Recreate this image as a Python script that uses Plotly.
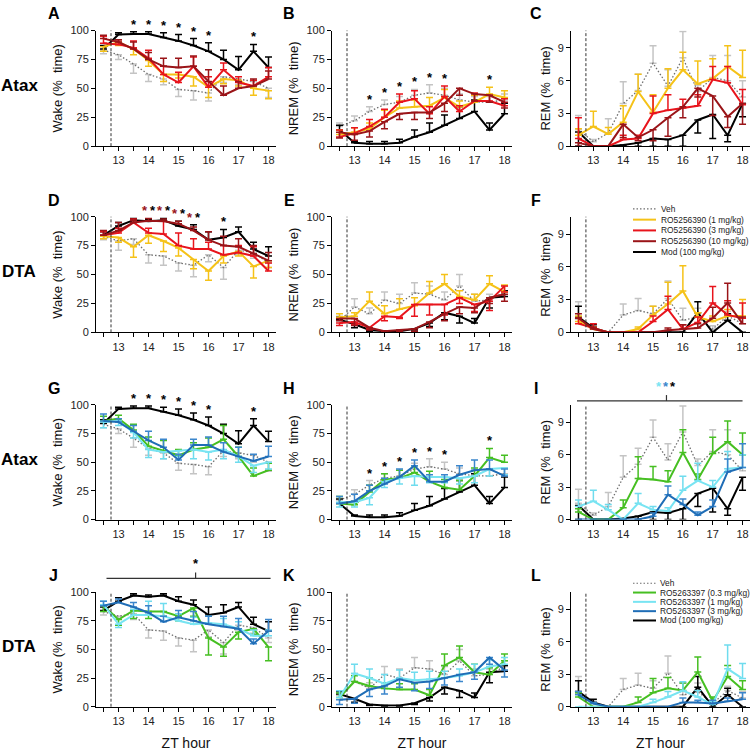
import plotly.graph_objects as go

# ---------------- data ----------------
ZT = [12.5, 13.0, 13.5, 14.0, 14.5, 15.0, 15.5, 16.0, 16.5, 17.0, 17.5, 18.0]
TICK_VALS = [12.5, 13.0, 13.5, 14.0, 14.5, 15.0, 15.5, 16.0, 16.5, 17.0, 17.5, 18.0]
TICK_TEXT = ["", "13", "", "14", "", "15", "", "16", "", "17", "", "18"]
PCT_TICKS = [0, 25, 50, 75, 100]
REM_TICKS = [0, 3, 6, 9]
ROW_LABELS = ["Atax", "DTA", "Atax", "DTA"]
PANEL_LETTERS = ["A", "B", "C", "D", "E", "F", "G", "H", "I", "J", "K", "L"]
Y_TITLES = ["Wake (%  time)", "NREM (%  time)", "REM (%  time)"]
NAMES_390 = ["Veh", "RO5256390 (1 mg/kg)", "RO5256390 (3 mg/kg)", "RO5256390 (10 mg/kg)", "Mod (100 mg/kg)"]
NAMES_397 = ["Veh", "RO5263397 (0.3 mg/kg)", "RO5263397 (1 mg/kg)", "RO5263397 (3 mg/kg)", "Mod (100 mg/kg)"]

# errors: positive = bar drawn upward, negative = bar drawn downward
# --- Atax, shared Veh / Mod ---
VEH_WAKE_ATAX = [83, 79, 71, 62, 58, 49, 48, 46, 60, 58, 56, 50]
VEH_WAKE_ATAX_ERR = [-3, -4, -8, -6, -5, -6, -8, -7, -5, -5, -6, -8]
MOD_WAKE_ATAX = [84, 96.5, 97, 97, 94, 91, 87, 82, 75, 66, 82, 68]
MOD_WAKE_ATAX_ERR = [3, 1.5, 2, 2, 4, 5.5, 6, 7.5, 8, 11.5, 6, 9]
VEH_NREM_ATAX = [17, 22, 30, 36, 38, 44, 46, 44, 40, 38, 38, 40]
VEH_NREM_ATAX_ERR = [3, 4, 4, 4, 5, 5, 7, 6, 5, 5, 5, 5]
MOD_NREM_ATAX = [14, 3, 2, 2, 3, 8, 12, 18, 24, 30, 14, 28]
MOD_NREM_ATAX_ERR = [4, 1, 2, 2, 3, 6, 8, 9, 10, 10, 6, 9]
VEH_REM_ATAX = [1.5, 0.4, 1.2, 3.9, 5.1, 7.6, 5.5, 8.1, 5.0, 6.3, 6.0, 4.5]
VEH_REM_ATAX_ERR = [1.3, 0.2, 1.3, 2.0, 1.5, 1.6, 1.5, 2.4, 0.6, 2.0, 2.3, 1.5]
MOD_REM_ATAX = [1.3, 0, 0, 0.1, 0.3, 0.7, 0.6, 1.0, 2.4, 2.9, 1.0, 3.9]
MOD_REM_ATAX_ERR = [-1.3, 0, 0, -0.1, -0.3, -0.7, -0.6, -1.0, -1.2, -2.2, -0.6, -1.2]
# --- DTA, shared Veh / Mod ---
VEH_WAKE_DTA = [83, 79, 81, 67, 66, 60, 58, 67, 56, 71, 69, 60]
VEH_WAKE_DTA_ERR = [-3, -8, -5, -7, -8, -7, -10, -6, -10, -4, -5, -4]
MOD_WAKE_DTA = [84, 92, 97, 96, 97, 92, 89, 80, 82, 87, 72, 66]
MOD_WAKE_DTA_ERR = [3, 3, 1.5, 1.5, 1.5, 4, 4, 7, 7, 4, 6, 8]
VEH_NREM_DTA = [10, 22, 16, 28, 25, 34, 33, 28, 40, 27, 28, 35]
VEH_NREM_DTA_ERR = [4, 7, 5, 7, 8, 9, 7, 7, 10, 6, 5, 5]
MOD_NREM_DTA = [11, 7, 2, 1, 1, 3, 8, 17, 14, 8, 30, 31]
MOD_NREM_DTA_ERR = [2, -3, -1, -1, -1, -1, -3, -6, -6, 4, -9, 5]
VEH_REM_DTA = [1.2, 0.3, 0, 1.6, 2.0, 1.7, 3.1, 1.1, 1.4, 0.3, 1.5, 0.8]
VEH_REM_DTA_ERR = [1.6, 0.2, 0, 1.0, 1.1, 0.7, 1.6, 1.1, 0.8, 0.3, 0.4, 0.6]
MOD_REM_DTA = [1.4, 0.4, 0, 0, 0, 0, 0, 0, 1.8, 0, 1.1, 0]
MOD_REM_DTA_ERR = [1.0, 0.3, 0, 0, 0, 0, 0, 0, 1.0, 0, 0.6, 0]

# --- RO5256390 ---
R390_1_WAKE_ATAX = [86, 90, 84, 74, 62, 62, 60, 51, 58, 57, 50, 48]
R390_1_WAKE_ATAX_ERR = [-4, -3, -5, -5, -6, -3, -8, -9, -4, -5, -6, -7]
R390_3_WAKE_ATAX = [89, 88, 85, 76, 62, 55, 69, 51, 66, 55, 52, 60]
R390_3_WAKE_ATAX_ERR = [6, 4, 6, 7, 7, 9, 8, 9, 6, 5, 5, 8]
R390_10_WAKE_ATAX = [93, 90, 84, 75, 69, 68, 69, 56, 44, 50, 52, 58]
R390_10_WAKE_ATAX_ERR = [3, 2, 6, 6, 7, 8, 9, 10, 8, 6, 6, 7]

R390_1_NREM_ATAX = [10, 12, 15, 25, 33, 34, 35, 42, 34, 38, 45, 42]
R390_1_NREM_ATAX_ERR = [4, 4, 5, 6, 6, 6, 7, 7, 5, 6, 6, 6]
R390_3_NREM_ATAX = [8, 11, 17, 25, 38, 41, 28, 43, 30, 39, 39, 35]
R390_3_NREM_ATAX_ERR = [6, 5, 6, 7, 7, 7, 6, 9, 5, 7, 5, 6]
R390_10_NREM_ATAX = [12, 10, 13, 21, 28, 29, 29, 37, 50, 45, 44, 38]
R390_10_NREM_ATAX_ERR = [-5, -5, -5, -6, -5, -6, -5, -7, -6, -6, -6, -5]

R390_1_REM_ATAX = [1.0, 1.8, 1.1, 2.2, 5.0, 3.1, 5.3, 7.0, 5.7, 6.2, 7.3, 6.3]
R390_1_REM_ATAX_ERR = [0.6, 1.4, 0.6, 1.5, 1.6, 1.6, 1.8, 1.6, 2.1, 1.8, 1.9, 2.5]
R390_3_REM_ATAX = [0.7, 0, 0, 0.6, 0.7, 3.0, 3.3, 3.5, 3.7, 6.1, 5.8, 3.8]
R390_3_REM_ATAX_ERR = [1.9, 0, 0, 0.4, 0.3, 1.6, 1.4, 0.8, 1.0, 1.2, 1.5, 1.4]
R390_10_REM_ATAX = [0.3, 0, 0, 2.0, 0.8, 1.5, 2.6, 3.6, 5.3, 4.6, 2.7, 3.9]
R390_10_REM_ATAX_ERR = [-0.3, 0, 0, -1.2, -0.3, -1.0, -1.7, -1.0, -0.8, -1.8, -1.0, -1.9]

R390_1_WAKE_DTA = [83, 82, 74, 84, 79, 73, 63, 53, 66, 70, 57, 62]
R390_1_WAKE_DTA_ERR = [-2, -4, -9, -7, -9, -7, -8, -8, -6, -4, -10, -6]
R390_3_WAKE_DTA = [84, 86, 95, 86, 85, 75, 72, 72, 67, 69, 66, 53]
R390_3_WAKE_DTA_ERR = [3, 4, 3, 4, 11, 11, 9, 6, 8, 6, 8, 7]
R390_10_WAKE_DTA = [84, 88, 95, 96.5, 96, 94, 88, 80, 75, 74, 68, 62]
R390_10_WAKE_DTA_ERR = [4, 7, 2, 2, 2, 2, 3, 7, 8, 7, 7, 7]

R390_1_NREM_DTA = [13, 14, 27, 16, 20, 23, 34, 42, 31, 28, 42, 35]
R390_1_NREM_DTA_ERR = [3, 3, 8, 7, 9, 7, 10, 8, 5, 5, 7, 6]
R390_3_NREM_DTA = [8, 9, 4, 14, 13, 24, 24, 24, 30, 24, 27, 40]
R390_3_NREM_DTA_ERR = [-2, -2, -1, -4, -1, -10, -9, -9, -5, -6, -8, -5]
R390_10_NREM_DTA = [12, 12, 4, 1, 2, 3, 9, 16, 22, 21, 30, 33]
R390_10_NREM_DTA_ERR = [-2, -6, -2, -1, -1, -2, -5, -6, -6, -4, -5, -6]

R390_1_REM_DTA = [1.0, 0.3, 0, 0, 0.3, 1.6, 2.6, 3.8, 1.4, 1.0, 1.5, 1.5]
R390_1_REM_DTA_ERR = [0.5, 0.2, 0, 0, 0.2, 0.8, 2.0, 2.3, 0.4, 0.5, 0.6, 1.5]
R390_3_REM_DTA = [0.8, 0.4, 0, 0, 0, 1.0, 2.1, 0.3, 0.9, 2.7, 1.6, 1.3]
R390_3_REM_DTA_ERR = [0.5, 0.4, 0, 0, 0, 0.5, 1.2, 0.4, 0.5, 1.5, 1.3, 1.4]
R390_10_REM_DTA = [1.3, 0.3, 0, 0, 0, 0, 0.2, 0.3, 0.4, 1.3, 2.7, 0.8]
R390_10_REM_DTA_ERR = [0.4, 0.2, 0, 0, 0, 0, 0.2, 0.4, 0.4, 1.0, 1.8, 0.6]

# --- RO5263397 ---
R397_03_WAKE_ATAX = [86, 88, 78, 64, 60, 56, 61, 63, 70, 55, 38, 43]
R397_03_WAKE_ATAX_ERR = [4, 3, 5, 8, 9, 5, 6, 8, 12, 8, 7, 6]
R397_1_WAKE_ATAX = [85, 86, 76, 61, 59, 60, 61, 59, 61, 55, 47, 50]
R397_1_WAKE_ATAX_ERR = [-5, -4, -5, -7, -6, -5, -8, -7, -8, -5, -6, -6]
R397_3_WAKE_ATAX = [86, 85, 77, 69, 63, 52, 65, 65, 59, 55, 51, 55]
R397_3_WAKE_ATAX_ERR = [6, 3, 5, 8, 7, 5, 5, 7, 8, 8, 6, 9]

R397_03_NREM_ATAX = [14, 13, 24, 35, 36, 41, 33, 28, 26, 38, 54, 50]
R397_03_NREM_ATAX_ERR = [6, 3, 6, 5, 7, 6, 9, 7, 8, 7, 8, 6]
R397_1_NREM_ATAX = [15, 15, 19, 33, 36, 38, 37, 37, 36, 38, 44, 45]
R397_1_NREM_ATAX_ERR = [-4, -4, -6, -5, -5, -8, -5, -5, -5, -6, -6, -6]
R397_3_NREM_ATAX = [14, 16, 25, 31, 37, 47, 33, 33, 39, 43, 44, 38]
R397_3_NREM_ATAX_ERR = [6, 6, 5, 5, 7, 5, 6, 6, 8, 9, 8, 6]

R397_03_REM_ATAX = [0.7, 0, 0, 1.1, 3.8, 3.7, 3.5, 6.2, 3.7, 6.1, 7.2, 6.0]
R397_03_REM_ATAX_ERR = [0.3, 0, 0, 0.7, 2.0, 1.2, 1.0, 2.1, 0.5, 1.5, 1.9, 2.0]
R397_1_REM_ATAX = [1.2, 1.7, 0.9, 0, 1.5, 0.9, 0.8, 2.7, 3.6, 3.0, 4.7, 4.8]
R397_1_REM_ATAX_ERR = [0.6, 1.0, 0.5, 0, 0.9, 0.3, 0.3, 1.3, 1.6, 0.6, 1.6, 1.2]
R397_3_REM_ATAX = [0, 0, 0, 0, 0, 0.3, 2.3, 1.4, 0.4, 1.2, 4.4, 4.8]
R397_3_REM_ATAX_ERR = [0, 0, 0, 0, 0, 0.3, 0.8, 0.5, 0.3, 0.6, 1.2, 2.2]

R397_03_WAKE_DTA = [88, 76, 84, 83, 83, 79, 86, 60, 52, 65, 68, 52]
R397_03_WAKE_DTA_ERR = [-5, -5, -7, -6, -4, -4, -7, -15, -8, -6, -5, -12]
R397_1_WAKE_DTA = [89, 72, 80, 80, 79, 75, 72, 73, 72, 68, 62, 62]
R397_1_WAKE_DTA_ERR = [3, -3, 5, 12, 11, 6, 6, 6, 5, 6, 5, 5]
R397_3_WAKE_DTA = [88, 91, 87, 82, 74, 78, 75, 72, 70, 68, 55, 66]
R397_3_WAKE_DTA_ERR = [4, 3, 4, 6, 5, 6, 8, 7, 9, 9, 4, 10]

R397_03_NREM_DTA = [8, 22, 18, 16, 15, 15, 10, 36, 43, 30, 28, 40]
R397_03_NREM_DTA_ERR = [4, 5, 7, 5, 5, 5, 5, 10, 10, 7, 6, 6]
R397_1_NREM_DTA = [8, 29, 25, 20, 25, 23, 24, 25, 27, 30, 35, 37]
R397_1_NREM_DTA_ERR = [6, 8, 8, 8, 7, 7, 7, 6, 6, 7, 6, 6]
R397_3_NREM_DTA = [6, 7, 15, 18, 24, 21, 22, 25, 28, 30, 43, 32]
R397_3_NREM_DTA_ERR = [-4, -4, -6, -7, -7, -7, -6, -6, -6, -6, -6, -6]

R397_03_REM_DTA = [0.9, 0, 0, 0, 0.4, 1.3, 1.7, 1.5, 3.2, 0.5, 2.8, 1.6]
R397_03_REM_DTA_ERR = [0.4, 0, 0, 0, 0.5, 1.3, 1.0, 0.7, 1.4, 0.4, 1.0, 0.8]
R397_1_REM_DTA = [0, 0, 0, 0, 0, 0.4, 0.9, 1.5, 0.9, 0.2, 3.5, 2.6]
R397_1_REM_DTA_ERR = [0, 0, 0, 0, 0, 0.3, 0.5, 0.8, 0.6, 0.3, 2.2, 1.4]
R397_3_REM_DTA = [1.1, 0.3, 0, 0, 0, 0, 0, 0.4, 0.4, 0.3, 0.5, 0.7]
R397_3_REM_DTA_ERR = [0.3, 0.1, 0, 0, 0, 0, 0, 0.4, 0.2, 0.3, 0.3, 0.6]

# significance stars (x positions)
STARS_MOD_ATAX_WAKE = [13.5, 14.0, 14.5, 15.0, 15.5, 16.0, 17.5]
STARS_NREM_ATAX = [13.5, 14.0, 14.5, 15.0, 15.5, 16.0, 17.5]
STARS_D_PAIRS = [14.0, 14.5, 15.0, 15.5]
STARS_D_MOD = [16.5]

# ---------------- styles ----------------
FONT = "Arial, Liberation Sans, sans-serif"
C_VEH, C_VEH_ERR = "#6e6e6e", "#c4c4c4"
C_MOD = "#000000"
C_Y, C_R, C_DR = "#f5c218", "#e8141c", "#9a1418"
C_G, C_CY, C_B = "#46bf22", "#78e4f2", "#1f6db6"
C_CY_ERR, C_B_ERR = "#6fdcee", "#3b86cc"
VEH_DASH = "1.5px,2px"

COLORS_390 = [(C_VEH, C_VEH_ERR), (C_Y, C_Y), (C_R, C_R), (C_DR, C_DR), (C_MOD, C_MOD)]
COLORS_397 = [(C_VEH, C_VEH_ERR), (C_G, C_G), (C_CY, C_CY_ERR), (C_B, C_B_ERR), (C_MOD, C_MOD)]

W, H = 750, 751
COL_PX = [(96, 276), (332, 512), (571, 750)]
ROW_PX = [(25, 143), (215, 333), (407, 524), (598, 715)]

def px_x(p):
    return p / W

def px_y(p):
    return 1 - p / H

# panel table built from the named arrays: (veh, 1st, 2nd, 3rd, mod) each (values, errors)
PANELS = [
    [(VEH_WAKE_ATAX, VEH_WAKE_ATAX_ERR), (R390_1_WAKE_ATAX, R390_1_WAKE_ATAX_ERR), (R390_3_WAKE_ATAX, R390_3_WAKE_ATAX_ERR), (R390_10_WAKE_ATAX, R390_10_WAKE_ATAX_ERR), (MOD_WAKE_ATAX, MOD_WAKE_ATAX_ERR)],
    [(VEH_NREM_ATAX, VEH_NREM_ATAX_ERR), (R390_1_NREM_ATAX, R390_1_NREM_ATAX_ERR), (R390_3_NREM_ATAX, R390_3_NREM_ATAX_ERR), (R390_10_NREM_ATAX, R390_10_NREM_ATAX_ERR), (MOD_NREM_ATAX, MOD_NREM_ATAX_ERR)],
    [(VEH_REM_ATAX, VEH_REM_ATAX_ERR), (R390_1_REM_ATAX, R390_1_REM_ATAX_ERR), (R390_3_REM_ATAX, R390_3_REM_ATAX_ERR), (R390_10_REM_ATAX, R390_10_REM_ATAX_ERR), (MOD_REM_ATAX, MOD_REM_ATAX_ERR)],
    [(VEH_WAKE_DTA, VEH_WAKE_DTA_ERR), (R390_1_WAKE_DTA, R390_1_WAKE_DTA_ERR), (R390_3_WAKE_DTA, R390_3_WAKE_DTA_ERR), (R390_10_WAKE_DTA, R390_10_WAKE_DTA_ERR), (MOD_WAKE_DTA, MOD_WAKE_DTA_ERR)],
    [(VEH_NREM_DTA, VEH_NREM_DTA_ERR), (R390_1_NREM_DTA, R390_1_NREM_DTA_ERR), (R390_3_NREM_DTA, R390_3_NREM_DTA_ERR), (R390_10_NREM_DTA, R390_10_NREM_DTA_ERR), (MOD_NREM_DTA, MOD_NREM_DTA_ERR)],
    [(VEH_REM_DTA, VEH_REM_DTA_ERR), (R390_1_REM_DTA, R390_1_REM_DTA_ERR), (R390_3_REM_DTA, R390_3_REM_DTA_ERR), (R390_10_REM_DTA, R390_10_REM_DTA_ERR), (MOD_REM_DTA, MOD_REM_DTA_ERR)],
    [(VEH_WAKE_ATAX, VEH_WAKE_ATAX_ERR), (R397_03_WAKE_ATAX, R397_03_WAKE_ATAX_ERR), (R397_1_WAKE_ATAX, R397_1_WAKE_ATAX_ERR), (R397_3_WAKE_ATAX, R397_3_WAKE_ATAX_ERR), (MOD_WAKE_ATAX, MOD_WAKE_ATAX_ERR)],
    [(VEH_NREM_ATAX, VEH_NREM_ATAX_ERR), (R397_03_NREM_ATAX, R397_03_NREM_ATAX_ERR), (R397_1_NREM_ATAX, R397_1_NREM_ATAX_ERR), (R397_3_NREM_ATAX, R397_3_NREM_ATAX_ERR), (MOD_NREM_ATAX, MOD_NREM_ATAX_ERR)],
    [(VEH_REM_ATAX, VEH_REM_ATAX_ERR), (R397_03_REM_ATAX, R397_03_REM_ATAX_ERR), (R397_1_REM_ATAX, R397_1_REM_ATAX_ERR), (R397_3_REM_ATAX, R397_3_REM_ATAX_ERR), (MOD_REM_ATAX, MOD_REM_ATAX_ERR)],
    [(VEH_WAKE_DTA, VEH_WAKE_DTA_ERR), (R397_03_WAKE_DTA, R397_03_WAKE_DTA_ERR), (R397_1_WAKE_DTA, R397_1_WAKE_DTA_ERR), (R397_3_WAKE_DTA, R397_3_WAKE_DTA_ERR), (MOD_WAKE_DTA, MOD_WAKE_DTA_ERR)],
    [(VEH_NREM_DTA, VEH_NREM_DTA_ERR), (R397_03_NREM_DTA, R397_03_NREM_DTA_ERR), (R397_1_NREM_DTA, R397_1_NREM_DTA_ERR), (R397_3_NREM_DTA, R397_3_NREM_DTA_ERR), (MOD_NREM_DTA, MOD_NREM_DTA_ERR)],
    [(VEH_REM_DTA, VEH_REM_DTA_ERR), (R397_03_REM_DTA, R397_03_REM_DTA_ERR), (R397_1_REM_DTA, R397_1_REM_DTA_ERR), (R397_3_REM_DTA, R397_3_REM_DTA_ERR), (MOD_REM_DTA, MOD_REM_DTA_ERR)],
]

fig = go.Figure()
layout = dict(width=W, height=H, margin=dict(l=0, r=0, t=0, b=0),
              paper_bgcolor="white", plot_bgcolor="white", showlegend=False,
              font=dict(family=FONT, color="#111"))
shapes, annotations = [], []

def top_at(panel, i):
    m = 0
    for vals, errs in panel:
        m = max(m, vals[i] + max(errs[i], 0))
    return m

for k in range(12):
    r, c = divmod(k, 3)
    suffix = "" if k == 0 else str(k + 1)
    xa, ya = "x" + suffix, "y" + suffix
    is_rem = (c == 2)
    yrange = [0, 10.6] if is_rem else [0, 100]
    colors = COLORS_390 if r < 2 else COLORS_397
    names = NAMES_390 if r < 2 else NAMES_397
    panel = PANELS[k]
    order = [0, 4, 1, 2, 3]
    for s in order:
        vals, errs = panel[s]
        line_c, err_c = colors[s]
        up = [max(e, 0) for e in errs]
        dn = [max(-e, 0) for e in errs]
        fig.add_trace(go.Scatter(
            x=ZT, y=vals, mode="lines", name=names[s], xaxis=xa, yaxis=ya,
            line=dict(color=line_c, width=1.3 if s == 0 else 2, dash=VEH_DASH if s == 0 else "solid"),
            error_y=dict(type="data", symmetric=False, array=up, arrayminus=dn,
                         color=err_c, thickness=1.5, width=3.5),
            cliponaxis=False, hoverinfo="skip"))
    x0, x1 = COL_PX[c]
    y0, y1 = ROW_PX[r]
    layout["xaxis" + suffix] = dict(
        domain=[px_x(x0), px_x(x1)], anchor=ya, range=[12.25, 18.25],
        tickvals=TICK_VALS, ticktext=TICK_TEXT, ticks="outside", ticklen=4, tickwidth=1,
        tickcolor="#000", showline=True, linecolor="#000", linewidth=1, showgrid=False,
        zeroline=False, tickfont=dict(size=11, color="#222"), fixedrange=True,
        title=dict(text="ZT hour" if r == 3 else "", font=dict(size=14, color="#111"), standoff=14))
    layout["yaxis" + suffix] = dict(
        domain=[px_y(y1), px_y(y0)], anchor=xa, range=yrange,
        tickvals=REM_TICKS if is_rem else PCT_TICKS, ticks="outside", ticklen=4, tickwidth=1,
        tickcolor="#000", showline=True, linecolor="#000", linewidth=1, showgrid=False,
        zeroline=False, tickfont=dict(size=11, color="#222"), fixedrange=True,
        title=dict(text=Y_TITLES[c], font=dict(size=13, color="#111"), standoff=4))
    # lights-off dashed line
    shapes.append(dict(type="line", xref=xa, yref=ya + " domain", x0=12.75, x1=12.75, y0=0, y1=1,
                       line=dict(color="#333", width=1, dash="3px,2px")))
    # panel letter
    letter_x = [54, 289, 536][c]
    annotations.append(dict(text="<b>%s</b>" % PANEL_LETTERS[k], xref="paper", yref="paper",
                            x=px_x(letter_x), y=px_y(y0 - 17), showarrow=False,
                            font=dict(size=16, color="#000"), xanchor="center", yanchor="middle"))
    if c == 0:
        annotations.append(dict(text="<b>%s</b>" % ROW_LABELS[r], xref="paper", yref="paper",
                                x=px_x(19), y=px_y((y0 + y1) / 2 - 3), showarrow=False,
                                font=dict(size=17, color="#000"), xanchor="center", yanchor="middle"))

    def star(xv, color, xshift=0):
        i = ZT.index(xv)
        annotations.append(dict(text="<b>*</b>", xref=xa, yref=ya, x=xv, y=top_at(panel, i),
                                xshift=xshift, yshift=-2, showarrow=False, yanchor="bottom",
                                font=dict(size=13, color=color)))
    if k in (0, 6):
        for xv in STARS_MOD_ATAX_WAKE:
            star(xv, "#000")
    if k in (1, 7):
        for xv in STARS_NREM_ATAX:
            star(xv, "#000")
    if k == 3:
        for xv in STARS_D_PAIRS:
            star(xv, C_DR, -4)
            star(xv, "#000", 4)
        for xv in STARS_D_MOD:
            star(xv, "#000")

# brackets (I and J)
BRACKETS = [("x9", 12.45, 18.0, 15.45, 403, [C_CY, C_B_ERR, "#000"]),
            ("x10", 12.6, 18.07, 15.57, 584, ["#000"])]
for xr, bx0, bx1, bxm, bpy, scol in BRACKETS:
    shapes.append(dict(type="line", xref=xr, yref="paper", x0=bx0, x1=bx1, y0=px_y(bpy), y1=px_y(bpy),
                       line=dict(color="#333", width=1.2)))
    shapes.append(dict(type="line", xref=xr, yref="paper", x0=bxm, x1=bxm, y0=px_y(bpy), y1=px_y(bpy - 6),
                       line=dict(color="#333", width=1.2)))
    n = len(scol)
    for j, col in enumerate(scol):
        annotations.append(dict(text="<b>*</b>", xref=xr, yref="paper", x=bxm, y=px_y(bpy - 5),
                                xshift=(j - (n - 1) / 2) * 7, showarrow=False, yanchor="bottom",
                                font=dict(size=13, color=col)))

# manual legends (F and L)
LEGENDS = [(NAMES_390, COLORS_390, 633, 656, 659, [207, 218, 229, 240, 251]),
           (NAMES_397, COLORS_397, 633, 656, 658, [589, 598.5, 608, 617.5, 627])]
for names, cols, lx0, lx1, tx, ys in LEGENDS:
    for s in range(5):
        shapes.append(dict(type="line", xref="paper", yref="paper", x0=px_x(lx0), x1=px_x(lx1),
                           y0=px_y(ys[s]), y1=px_y(ys[s]),
                           line=dict(color=cols[s][0], width=1.2 if s == 0 else 2,
                                     dash=VEH_DASH if s == 0 else "solid")))
        annotations.append(dict(text=names[s], xref="paper", yref="paper", x=px_x(tx), y=px_y(ys[s]),
                                showarrow=False, xanchor="left", yanchor="middle",
                                font=dict(size=8.4, color="#222")))

layout["shapes"] = shapes
layout["annotations"] = annotations
fig.update_layout(**layout)
fig.write_html("out.html", config={"displayModeBar": False, "staticPlot": True},
               post_script="document.body.style.margin='0';document.body.style.padding='0';"
                           "document.documentElement.style.overflow='hidden';")
